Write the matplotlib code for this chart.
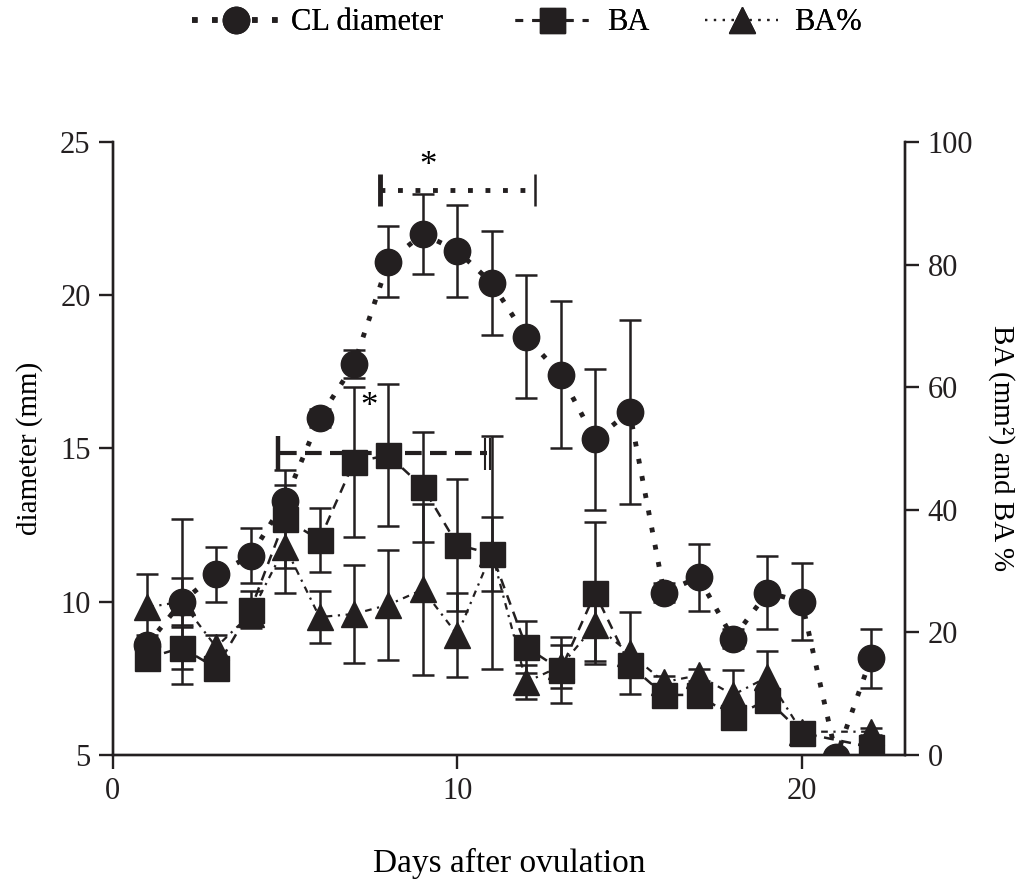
import numpy as np
import matplotlib.pyplot as plt
from matplotlib.lines import Line2D

plt.rcParams['font.family'] = ['Liberation Serif', 'DejaVu Serif']
plt.rcParams['font.size'] = 21

# CL diameter (mm), days 1-22
days_cl = [1, 2, 3, 4, 5, 6, 7, 8, 9, 10, 11, 12, 13, 14, 15, 16, 17, 18, 19, 20, 21, 22]
cl_diam = [8.6, 10.0, 10.9, 11.5, 13.3, 16.0, 17.75, 21.1, 22.0, 21.45, 20.4, 18.65,
           17.4, 15.3, 16.2, 10.3, 10.8, 8.8, 10.3, 10.0, 4.95, 8.15]
cl_err = [0.3, 2.7, 0.9, 0.9, 0.5, 0.3, 0.45, 1.15, 1.3, 1.5, 1.7, 2.0,
          2.4, 2.3, 3.0, 0.3, 1.1, 0.3, 1.2, 1.25, 0.2, 0.95]

# BA (mm2) and BA (%), no values on day 21
days_ba = [1, 2, 3, 4, 5, 6, 7, 8, 9, 10, 11, 12, 13, 14, 15, 16, 17, 18, 19, 20, 22]
ba = [15.8, 17.5, 14.2, 23.7, 38.5, 35.1, 47.8, 48.9, 43.7, 34.3, 32.8, 17.6,
      13.9, 26.4, 14.7, 9.8, 9.8, 6.2, 9.0, 3.6, 1.3]
ba_err = [1.0, 3.4, 1.0, 3.0, 8.0, 5.2, 12.2, 11.6, 9.0, 10.8, 6.0, 4.3,
          5.4, 11.6, 1.5, 1.0, 1.0, 1.0, 1.0, 0.8, 0.5]
ba_pct = [24.1, 25.0, 17.6, 23.0, 34.0, 22.5, 23.0, 24.5, 27.0, 19.6, 33.0, 11.9,
          14.5, 21.2, 16.6, 11.9, 13.0, 9.8, 12.7, 3.8, 3.8]
ba_pct_err = [5.4, 3.8, 2.0, 1.5, 7.5, 4.2, 8.0, 9.0, 14.0, 6.8, 19.0, 2.7,
              3.5, 5.9, 6.7, 1.0, 1.0, 4.0, 4.3, 0.8, 0.6]

k = '#231f20'
cl_ls = (0, (1, 2.6))
ba_ls = (0, (4, 3))
pct_ls = (0, (3, 2.5, 1, 2.5))

fig = plt.figure(figsize=(10.16, 8.82), dpi=100)
ax = fig.add_axes([0.111, 0.144, 0.78, 0.695])
ax2 = ax.twinx()

err_kw = dict(ecolor=k, elinewidth=1.8, capsize=8, capthick=1.8)

ax.errorbar(days_cl, cl_diam, yerr=cl_err, fmt='o', color=k, ms=19,
            ls=cl_ls, lw=3.5, zorder=2, **err_kw)
ax2.errorbar(days_ba, ba_pct, yerr=ba_pct_err, fmt='^', color=k, ms=19,
             ls=pct_ls, lw=1.6, zorder=3, **err_kw)
ax2.errorbar(days_ba, ba, yerr=ba_err, fmt='s', color=k, ms=18,
             ls=ba_ls, lw=1.8, zorder=4, **err_kw)

ax.set_zorder(ax2.get_zorder() + 1)
ax.patch.set_visible(False)

# significance brackets
ax.plot([7.75, 12.25], [23.45, 23.45], color=k, lw=3.5, ls=cl_ls)
ax.plot([7.75, 7.75], [22.9, 23.95], color=k, lw=3.5, solid_capstyle='butt')
ax.plot([12.25, 12.25], [22.9, 23.95], color=k, lw=1.8, solid_capstyle='butt')
ax.text(9.15, 24.2, '*', ha='center', va='center', fontsize=25)

ax.plot([4.85, 10.85], [14.85, 14.85], color=k, lw=3, ls=(0, (4, 2)))
ax.plot([4.8, 4.8], [14.25, 15.4], color=k, lw=3.2, solid_capstyle='butt')
ax.plot([10.8, 10.8], [14.3, 15.35], color=k, lw=1.5, solid_capstyle='butt')
ax.plot([10.95, 10.95], [14.3, 15.35], color=k, lw=1.5, solid_capstyle='butt')
ax.text(7.45, 16.35, '*', ha='center', va='center', fontsize=25)

ax.set_xlim(0, 23)
ax.set_ylim(5, 25)
ax2.set_ylim(0, 100)
ax.set_xticks([0, 10, 20])
ax.set_yticks([5, 10, 15, 20, 25])
ax2.set_yticks([0, 20, 40, 60, 80, 100])

for a in (ax, ax2):
    a.spines['top'].set_visible(False)
    for s in a.spines.values():
        s.set_linewidth(1.7)
        s.set_color(k)
    a.tick_params(direction='out', length=10, width=1.7, colors=k, labelsize=22, pad=6)

ax.set_ylabel('diameter (mm)', fontsize=21, labelpad=12)
ax2.set_ylabel('BA (mm²) and BA %', fontsize=21, rotation=270, labelpad=30)
ax.set_xlabel('Days after ovulation', fontsize=24, labelpad=30)

# legend: one entry per series, placed along the top
entries = [
    (Line2D([], [], color=k, marker='o', ms=19, ls=cl_ls, lw=4), 'CL diameter', 0.189, 2.9, 0.35),
    (Line2D([], [], color=k, marker='s', ms=18, ls=(0, (2.5, 3)), lw=2.2), 'BA', 0.507, 2.4, 0.6),
    (Line2D([], [], color=k, marker='^', ms=19, ls=(0, (1, 3)), lw=1.6), 'BA%', 0.694, 2.4, 0.5),
]
for h, lab, x0, hl, tp in entries:
    leg = fig.legend([h], [lab], loc='center left', bbox_to_anchor=(x0, 0.974),
                     frameon=False, fontsize=22, handlelength=hl, handletextpad=tp,
                     borderpad=0, borderaxespad=0)
    fig.add_artist(leg)

fig.savefig('out.png', dpi=100)
